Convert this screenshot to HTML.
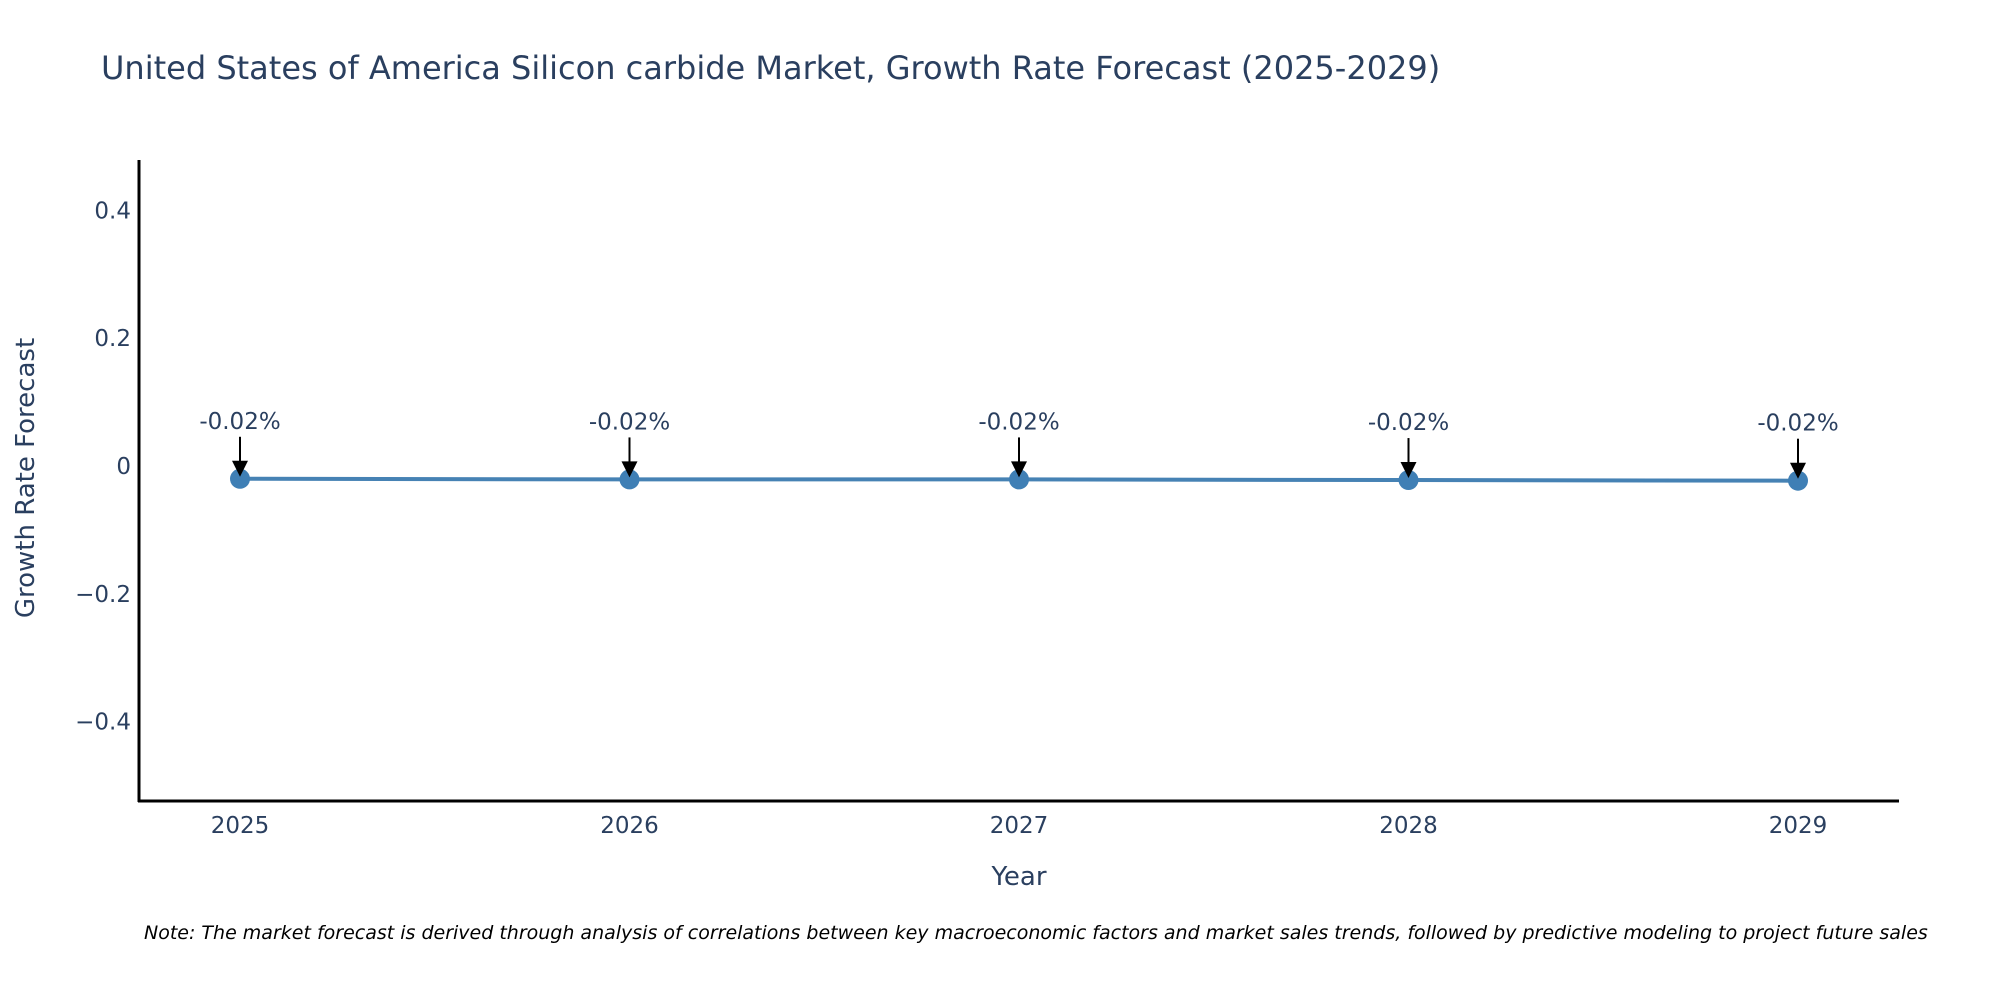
<!DOCTYPE html>
<html><head><meta charset="utf-8"><style>
html,body{margin:0;padding:0;background:#fff;width:2000px;height:1000px;overflow:hidden}
text{font-family:"DejaVu Sans","Liberation Sans",sans-serif}
</style></head><body>
<svg id="chart" width="2000" height="1000" xmlns="http://www.w3.org/2000/svg">
<text x="101" y="79" font-size="32" fill="#2a3f5f">United States of America Silicon carbide Market, Growth Rate Forecast (2025-2029)</text>
<g id="yticks"></g>
<g id="xticks"></g>
<line x1="139" y1="160" x2="139" y2="802" stroke="#000" stroke-width="3"/>
<line x1="138" y1="801" x2="1899" y2="801" stroke="#000" stroke-width="3"/>
<text transform="translate(34,478) rotate(-90)" text-anchor="middle" font-size="26" fill="#2a3f5f">Growth Rate Forecast</text>
<text x="1019" y="885" text-anchor="middle" font-size="26" fill="#2a3f5f">Year</text>
<g id="series"></g>
<g id="annots"></g>
<text x="144" y="939" font-size="19" font-style="italic" fill="#000">Note: The market forecast is derived through analysis of correlations between key macroeconomic factors and market sales trends, followed by predictive modeling to project future sales</text>
</svg>
<script>
const years = ["2025","2026","2027","2028","2029"];
const growth = [-0.020,-0.021,-0.021,-0.022,-0.023];
const labels = ["-0.02%","-0.02%","-0.02%","-0.02%","-0.02%"];
const yTicks = [0.4,0.2,0,-0.2,-0.4];
const yTickLabels = ["0.4","0.2","0","\u22120.2","\u22120.4"];

const NS="http://www.w3.org/2000/svg";
function xPos(i){return 240+i*389.5;}
function yPos(v){return 466-v*639;}
function mk(tag,attrs,parent){const e=document.createElementNS(NS,tag);for(const k in attrs)e.setAttribute(k,attrs[k]);parent.appendChild(e);return e;}

const yt=document.getElementById('yticks');
yTicks.forEach((v,i)=>{
  const t=mk('text',{x:131,y:yPos(v)+8,'text-anchor':'end','font-size':23,fill:'#2a3f5f'},yt);
  
  
  t.textContent=yTickLabels[i];
});
const xt=document.getElementById('xticks');
years.forEach((y,i)=>{
  const t=mk('text',{x:xPos(i),y:833,'text-anchor':'middle','font-size':23,fill:'#2a3f5f'},xt);
  
  
  t.textContent=y;
});
const s=document.getElementById('series');
const pts=growth.map((v,i)=>xPos(i)+','+yPos(v)).join(' ');
const pl=mk('polyline',{points:pts,fill:'none',stroke:'#4682b4','stroke-width':4},s);


growth.forEach((v,i)=>{
  const c=mk('circle',{cx:xPos(i),cy:yPos(v),r:10,fill:'#3f7fb5'},s);
  
  
});
const a=document.getElementById('annots');
growth.forEach((v,i)=>{
  const x=xPos(i),y=yPos(v);
  const t=mk('text',{x:x,y:y-50,'text-anchor':'middle','font-size':23,fill:'#2a3f5f'},a);
  
  
  t.textContent=labels[i];
  const l=mk('line',{x1:x,y1:y-42,x2:x,y2:y-14,stroke:'#000','stroke-width':2},a);
  
  
  const h=mk('polygon',{points:(x-8)+','+(y-18)+' '+(x+8)+','+(y-18)+' '+x+','+(y-2),fill:'#000'},a);
  
  
});
</script>
</body></html>
